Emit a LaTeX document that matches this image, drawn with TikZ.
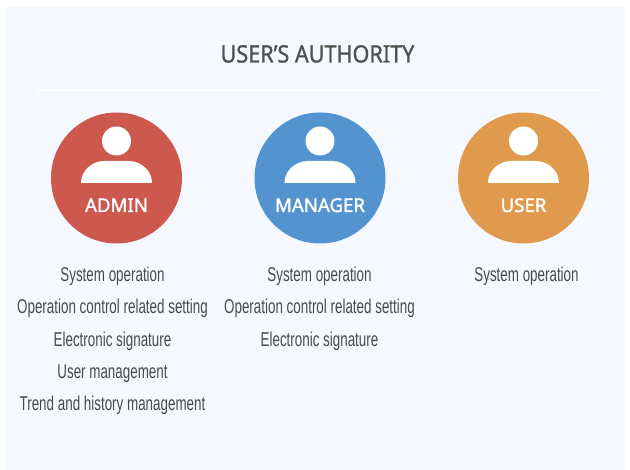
\documentclass[tikz,border=0pt]{standalone}
\usepackage{fontspec}
\setmainfont{Liberation Sans}
\newfontfamily\narrowfont[FakeStretch=0.67]{Liberation Sans}
\newfontfamily\titlefont[FakeStretch=0.9,FakeBold=1.0]{Noto Sans}
\newfontfamily\rolefont[FakeStretch=0.98,FakeBold=1.6]{Noto Sans}
\definecolor{panelbg}{HTML}{F5F9FF}
\definecolor{adminred}{HTML}{CC584E}
\definecolor{managerblue}{HTML}{5293D0}
\definecolor{userorange}{HTML}{DF9A4E}
\definecolor{titlegray}{HTML}{505050}
\definecolor{itemgray}{HTML}{4A4A4A}
\tikzset{
  x=1pt,y=-1pt,
  badge/.style={circle,minimum size=131pt,inner sep=0pt,fill=#1},
  headdot/.style={circle,minimum size=29pt,inner sep=0pt,fill=white},
  rolelabel/.style={text=white,inner sep=0pt,anchor=base,font=\rolefont\fontsize{19}{19}\selectfont},
  itemlabel/.style={text=itemgray,inner sep=0pt,anchor=base,font=\narrowfont\fontsize{20}{20}\selectfont},
  titlelabel/.style={text=titlegray,inner sep=0pt,anchor=base,font=\titlefont\fontsize{24}{24}\selectfont},
}
\newcommand{\userbody}[1]{%
  \fill[white] (#1-35.5,183) .. controls (#1-35.5,170) and (#1-24,161) .. (#1-12,161)
    -- (#1+12,161) .. controls (#1+24,161) and (#1+35.5,170) .. (#1+35.5,183) -- cycle;}
\begin{document}
\begin{tikzpicture}
\useasboundingbox (0,0) rectangle (630,470);
\fill[panelbg] (5,7) rectangle (625,470);
\node[titlelabel] (title) at (317.5,62.5) {USER’S AUTHORITY};
\coordinate (ruleL) at (37,90);
\coordinate (ruleR) at (600,90);
\draw[white,line width=1.5pt] (ruleL) -- (ruleR);

\node[badge=adminred] (admin) at (116.5,178) {};
\node[headdot] (adminhead) at (116.5,141) {};
\userbody{116.5}
\node[rolelabel] (adminlabel) at (116.5,212) {ADMIN};

\node[badge=managerblue] (manager) at (320,178) {};
\node[headdot] (managerhead) at (320,141) {};
\userbody{320}
\node[rolelabel] (managerlabel) at (320,212) {MANAGER};

\node[badge=userorange] (user) at (523.5,178) {};
\node[headdot] (userhead) at (523.5,141) {};
\userbody{523.5}
\node[rolelabel] (userlabel) at (523.5,212) {USER};

\node[itemlabel] (a1) at (112.5,281.5) {System operation};
\node[itemlabel] (a2) at (112.5,313.5) {Operation control related setting};
\node[itemlabel] (a3) at (112.5,346.5) {Electronic signature};
\node[itemlabel] (a4) at (112.5,378.5) {User management};
\node[itemlabel] (a5) at (112.5,410.5) {Trend and history management};

\node[itemlabel] (m1) at (319.5,281.5) {System operation};
\node[itemlabel] (m2) at (319.5,313.5) {Operation control related setting};
\node[itemlabel] (m3) at (319.5,346.5) {Electronic signature};

\node[itemlabel] (u1) at (526.5,281.5) {System operation};
\end{tikzpicture}
\end{document}
